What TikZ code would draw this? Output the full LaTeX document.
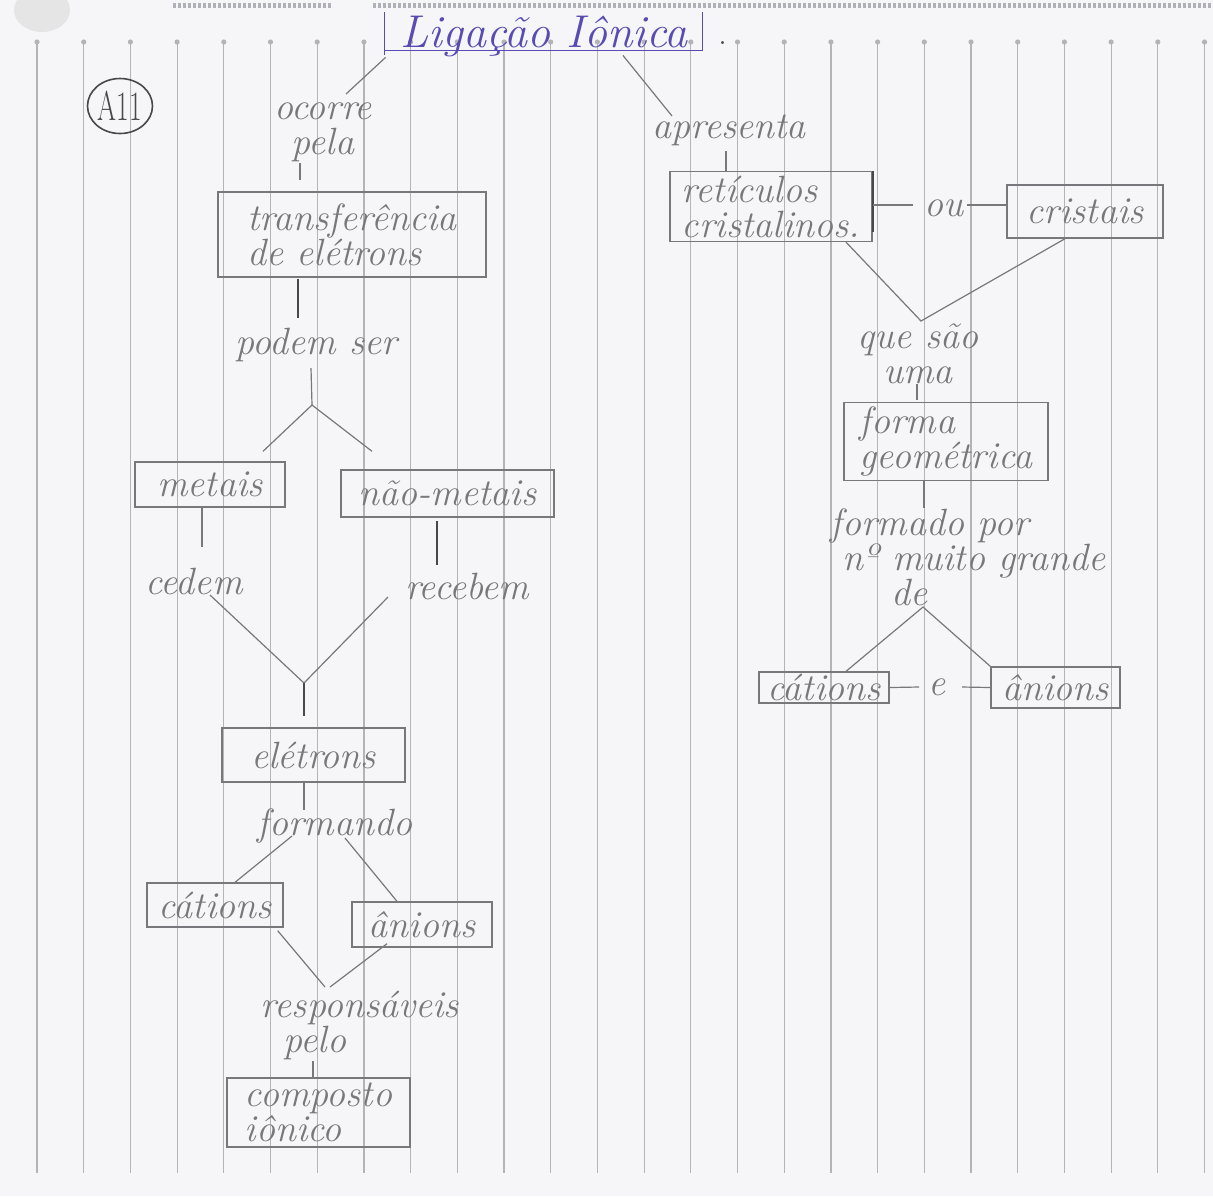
\documentclass[tikz,border=0pt]{standalone}
\usepackage{graphicx}
\usetikzlibrary{calc,shapes.geometric}

\definecolor{paper}{RGB}{246,246,248}
\definecolor{rule}{RGB}{180,180,184}
\definecolor{pencil}{RGB}{120,120,124}
\definecolor{pencildark}{RGB}{72,72,76}
\definecolor{inkblue}{RGB}{88,76,178}
\definecolor{perf}{RGB}{176,176,184}

\tikzset{
  hw/.style={font=\fontsize{19}{17.5}\selectfont\itshape, text=pencil, inner sep=0pt, align=center},
  hwl/.style={hw, align=left},
  concept/.style={draw=pencil, line width=0.7pt, inner sep=2pt,
    font=\fontsize{19}{17.5}\selectfont\itshape, text=pencil, align=left},
  link/.style={draw=pencil, line width=0.6pt},
  heavy/.style={draw=pencildark, line width=1.2pt},
  titleframe/.style={draw=inkblue, line width=0.8pt},
}

\begin{document}
\begin{tikzpicture}[x=0.5pt,y=-0.5pt]
  % sheet of ruled paper
  \useasboundingbox (0,0) rectangle (1213,1196);
  \fill[paper] (0,0) rectangle (1213,1196);
  \fill[gray!20] (42,10) ellipse (28 and 22);
  \draw[perf, line width=2.5pt, dash pattern=on 1.5pt off 1pt] (173,5) -- (333,5);
  \draw[perf, line width=2.5pt, dash pattern=on 1.5pt off 1pt] (373,5) -- (1213,5);
  \foreach \i in {0,...,25} {
    \draw[rule, line width=0.6pt] (37+46.7*\i,42) -- (37+46.7*\i,1173);
    \fill[rule] (37+46.7*\i,42) circle (1.3pt);
  }

  % heading
  \node[minimum width=158.5pt, minimum height=19pt, inner sep=0pt] (titlebox) at (543.5,31) {};
  \draw[titleframe] (titlebox.north west) -- ($(titlebox.south west)+(0,5)$);
  \draw[titleframe] (titlebox.south west) -- (titlebox.south east) -- (titlebox.north east);
  \node[font=\fontsize{23}{23}\selectfont\itshape, text=inkblue, anchor=base, inner sep=0pt] (title) at (544,47) {Ligação Iônica};
  \node[text=pencildark, font=\fontsize{18}{18}\selectfont, inner sep=0pt, anchor=base] (titledot) at (723,44) {.};

  % sheet label
  \node[draw=pencildark, ellipse, line width=0.8pt, minimum width=32.5pt, minimum height=27.5pt,
        inner sep=0pt, text=pencildark, font=\fontsize{19}{19}\selectfont] (a11) at (120,106)
        {\scalebox{0.72}[1.1]{A11}};

  % left branch
  \node[hw] (ocorre) at (323,132) {ocorre\\pela};
  \node[concept, minimum width=134pt, minimum height=42.5pt] (transf) at (352,234.5) {transferência\\de elétrons};
  \node[hw] (podem) at (316,345) {podem ser};
  \coordinate (fork1) at (312,405);
  \node[concept, minimum width=75pt, minimum height=22.5pt] (metais) at (210,484.5) {metais};
  \node[concept, minimum width=106.5pt, minimum height=23.5pt] (nao) at (447.5,493.5) {não-metais};
  \node[hw] (cedem) at (194,581) {cedem};
  \node[hw] (recebem) at (467,586) {recebem};
  \coordinate (fork2) at (304,683);
  \node[concept, minimum width=91.5pt, minimum height=27pt] (eletrons) at (313.5,755) {elétrons};
  \node[hw] (formando) at (335,826) {formando};
  \node[concept, minimum width=68pt, minimum height=22pt] (catL) at (215,905) {cátions};
  \node[concept, minimum width=70pt, minimum height=22.5pt] (aniL) at (422,924.5) {ânions};
  \node[hwl] (resp) at (360,1025) {responsáveis\\\hspace*{0.6em}pelo};
  \node[concept, minimum width=91.5pt, minimum height=34.5pt] (composto) at (318.5,1112.5) {composto\\iônico};

  \draw[link] ($(titlebox.south west)+(1,7)$) -- ($(ocorre)+(23,-38)$);
  \draw[link] ($(ocorre)+(-23,31)$) -- ($(transf.north)+(-52,-11)$);
  \draw[heavy] ($(transf.south)+(-54,1)$) -- ($(podem)+(-18,-27)$);
  \draw[link] ($(podem)+(-5,23)$) -- (fork1);
  \draw[link] ($(metais.north)+(53,-10)$) -- (fork1) -- ($(nao.north)+(-75.5,-18)$);
  \draw[link] ($(metais.south)+(-8,0)$) -- ($(cedem)+(8,-34)$);
  \draw[heavy] ($(nao.south)+(-10.5,3)$) -- ($(recebem)+(-30,-21)$);
  \draw[link] ($(cedem)+(16,14)$) -- (fork2) -- ($(recebem)+(-79,11)$);
  \draw[heavy, line width=1pt] (fork2) -- ($(eletrons.north)+(-9.5,-11)$);
  \draw[link] ($(eletrons.south)+(-9.5,0)$) -- ($(formando)+(-31,-16)$);
  \draw[link] ($(formando)+(-43,10)$) -- ($(catL.north)+(20,0)$);
  \draw[link] ($(formando)+(10,12)$) -- ($(aniL.north)+(-25,0)$);
  \draw[link] ($(catL.south east)+(-6,3)$) -- ($(resp)+(-35,-38)$);
  \draw[link] ($(aniL.south)+(-35,-4)$) -- ($(resp)+(-30,-38)$);
  \draw[link] ($(resp)+(-47,36)$) -- ($(composto.north)+(-5.5,0)$);

  % right branch
  \node[hw] (apres) at (729,130) {apresenta};
  \node[concept, minimum width=101pt, minimum height=33.5pt] (retic) at (771,206.5) {retículos\\cristalinos.};
  \node[hw] (ou) at (944,208) {ou};
  \node[concept, minimum width=78pt, minimum height=26.5pt] (cristais) at (1085,211.5) {cristais};
  \coordinate (fork3) at (921,321);
  \node[hw] (queSao) at (918,354) {que são\\uma};
  \node[concept, minimum width=102pt, minimum height=31.5pt] (forma) at (946,441.5) {forma\\geométrica};
  \node[hwl] (formado) at (968,557) {formado por\\\hspace*{0.3em}nº muito grande\\\hspace*{1.6em}de};
  \node[concept, minimum width=65pt, minimum height=15.5pt, inner sep=1pt] (catR) at (824,687.5) {cátions};
  \node[hw] (e) at (937,687) {e};
  \node[concept, minimum width=64.5pt, minimum height=20.5pt] (aniR) at (1055.5,687.5) {ânions};

  \draw[link] ($(titlebox.south west)!0.75!(titlebox.south east)+(0,5)$) -- ($(apres)+(-57,-14)$);
  \draw[link] ($(apres)+(-3,21)$) -- ($(retic.north)+(-45,0)$);
  \draw[heavy, line width=1pt] (retic.north east) -- ($(retic.south east)+(0,-10)$);
  \draw[link] ($(retic.east)+(0,-1.5)$) -- ($(ou)+(-31,-3)$);
  \draw[link] ($(ou)+(23,-3)$) -- ($(cristais.west)+(0,-6.5)$);
  \draw[link] ($(retic.south)+(75,0)$) -- (fork3) -- ($(cristais.south)+(-20,0)$);
  \draw[link] ($(queSao)+(-1,30)$) -- ($(forma.north)+(-29,-2)$);
  \draw[link] ($(forma.south)+(-22,0)$) -- ($(formado)+(-44,-49)$);
  \draw[link] ($(catR.north)+(22,0)$) -- ($(formado)+(-45,50)$) -- (aniR.north west);
  \draw[link] (catR.east) -- ($(e)+(-18,0)$);
  \draw[link] ($(e)+(25,0)$) -- (aniR.west);
\end{tikzpicture}
\end{document}
